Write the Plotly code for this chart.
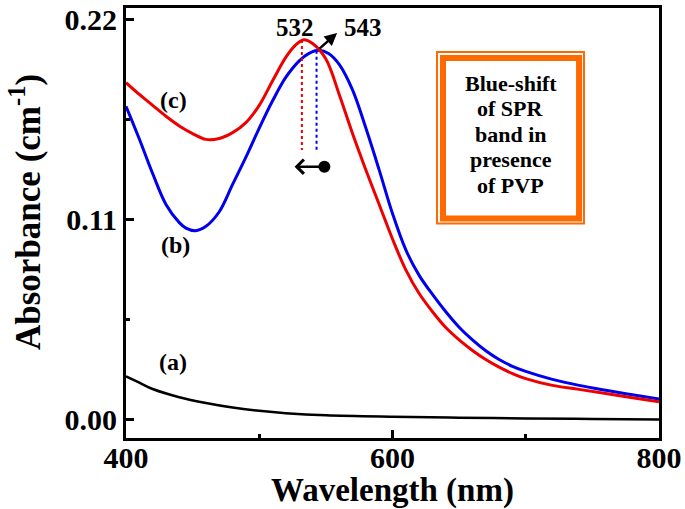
import plotly.graph_objects as go

# ---------------- data ----------------
wl_c = [400, 410, 420, 430, 440, 450, 460, 470, 480, 490, 500, 510, 520, 527, 533,
        540, 550, 560, 570, 580, 590, 600, 610, 620, 630, 640, 650, 660, 670, 680,
        690, 700, 720, 740, 760, 780, 800]
abs_c = [0.185, 0.1785, 0.1725, 0.1665, 0.1612, 0.157, 0.1538, 0.1543, 0.1575, 0.163, 0.1725,
         0.186, 0.199, 0.2055, 0.2085, 0.2065, 0.198, 0.1785, 0.157, 0.137, 0.118, 0.099,
         0.082, 0.069, 0.059, 0.0503, 0.0435, 0.0377, 0.0327, 0.0285, 0.025, 0.0222,
         0.0185, 0.0163, 0.014, 0.0117, 0.0095]

wl_b = [400, 410, 420, 430, 440, 445, 452, 460, 470, 480, 490, 500, 510, 520, 530,
        537, 545, 552, 560, 570, 580, 590, 600, 610, 620, 630, 640, 650, 660, 670,
        680, 690, 700, 720, 740, 760, 780, 800]
abs_b = [0.172, 0.154, 0.135, 0.118, 0.108, 0.105, 0.1036, 0.106, 0.114, 0.129, 0.144,
         0.160, 0.175, 0.188, 0.197, 0.201, 0.2028, 0.201, 0.195, 0.181, 0.160, 0.137,
         0.113, 0.093, 0.079, 0.0685, 0.059, 0.0505, 0.0435, 0.0375, 0.0327, 0.029, 0.0262,
         0.0218, 0.0185, 0.0158, 0.0133, 0.011]

wl_a = [400, 410, 420, 440, 460, 480, 500, 520, 550, 600, 650, 700, 750, 800]
abs_a = [0.0235, 0.020, 0.0165, 0.012, 0.0088, 0.0063, 0.0045, 0.0032, 0.002, 0.0012,
         0.0007, 0.0003, 0.0, -0.0003]

peak_wl = [532, 543]
peak_abs = [0.2085, 0.2025]
peak_labels = ["532", "543"]
drop_bottom = 0.148

curve_labels = ["(a)", "(b)", "(c)"]
box_lines = ["Blue-shift", "of SPR", "band in", "presence", "of PVP"]

x_ticks = [400, 600, 800]
y_ticks = [0.00, 0.11, 0.22]

FONT = "Liberation Serif"
ORANGE = "#FF6A00"

fig = go.Figure()
fig.add_trace(go.Scatter(x=wl_a, y=abs_a, mode="lines", line=dict(color="black", width=2.5, shape="spline")))
fig.add_trace(go.Scatter(x=wl_b, y=abs_b, mode="lines", line=dict(color="#0000EE", width=3, shape="spline")))
fig.add_trace(go.Scatter(x=wl_c, y=abs_c, mode="lines", line=dict(color="#EE0000", width=3, shape="spline")))

# dotted drop lines from peaks
for xw, ya, col in zip(peak_wl, peak_abs, ["#EE0000", "#0000EE"]):
    fig.add_trace(go.Scatter(x=[xw, xw], y=[ya, drop_bottom], mode="lines",
                             line=dict(color=col, width=2, dash="dot")))

ann = []
# y-axis title as annotation (placed like the reference)
ann.append(dict(x=(25 - 126) / 533, y=(438 - 212) / 430, xref="paper", yref="paper",
                text="Absorbance (cm<sup>-1</sup>)", textangle=-90, showarrow=False,
                xanchor="center", yanchor="middle",
                font=dict(family=FONT, size=35, color="black", weight="bold")))
# curve labels
for txt, (xx, yy) in zip(curve_labels, [(435.3, 0.0314), (436.8, 0.0957), (435.3, 0.1755)]):
    ann.append(dict(x=xx, y=yy, text=txt, showarrow=False,
                    font=dict(family=FONT, size=24, color="black", weight="bold")))
# peak labels
for txt, xx in zip(peak_labels, [526.8, 577.9]):
    ann.append(dict(x=xx, y=0.2156, text=txt, showarrow=False,
                    font=dict(family=FONT, size=25, color="black", weight="bold")))
# arrow near 543
ann.append(dict(x=558.4, y=0.2123, ax=544.1, ay=0.203, axref="x", ayref="y",
                text="", showarrow=True, arrowhead=2, arrowsize=1, arrowwidth=2.5,
                arrowcolor="black", standoff=0, startstandoff=0))
# left arrow with dot
ann.append(dict(x=526.5, y=0.1388, ax=550.0, ay=0.1388, axref="x", ayref="y",
                text="", showarrow=True, arrowhead=4, arrowsize=1.1, arrowwidth=2.5,
                arrowside="end+start", startarrowhead=6, startarrowsize=1.2,
                arrowcolor="black", standoff=0, startstandoff=0))
# box text
for i, line in enumerate(box_lines):
    ann.append(dict(x=688.9, y=(419 - (83 + 25.5 * i)) * 0.00055, text=line, showarrow=False,
                    font=dict(family=FONT, size=22, color="black", weight="bold")))

shapes = [
    dict(type="rect", xref="x", yref="y", x0=633.4, x1=743.7, y0=0.1075, y1=0.2019,
         line=dict(color=ORANGE, width=2)),
    dict(type="rect", xref="x", yref="y", x0=637.9, x1=740.0, y0=0.1103, y1=0.1986,
         line=dict(color=ORANGE, width=6)),
]

axis_common = dict(showline=True, linecolor="black", linewidth=3, mirror=True,
                   ticks="inside", ticklen=8, tickwidth=3, tickcolor="black",
                   showgrid=False, zeroline=False)

fig.update_layout(
    width=685, height=509,
    margin=dict(l=126, r=26, t=8, b=71),
    plot_bgcolor="white", paper_bgcolor="white",
    showlegend=False,
    annotations=ann, shapes=shapes,
    xaxis=dict(range=[400, 800], tickvals=x_ticks,
               tickfont=dict(family=FONT, size=30, color="black", weight="bold"),
               ticklabelstandoff=-9,
               title=dict(text="Wavelength (nm)", standoff=8,
                          font=dict(family=FONT, size=33, color="black", weight="bold")),
               minor=dict(tick0=400, dtick=100, ticks="inside", ticklen=4, tickwidth=3, tickcolor="black"),
               automargin=False, **axis_common),
    yaxis=dict(range=[-0.01045, 0.22605], tickvals=y_ticks, tickformat=".2f",
               tickfont=dict(family=FONT, size=30, color="black", weight="bold"),
               minor=dict(tick0=0, dtick=0.055, ticks="inside", ticklen=4, tickwidth=3, tickcolor="black"),
               automargin=False, **axis_common),
)

fig.write_html("out.html", config={"displayModeBar": False},
               post_script="document.body.style.margin='0';document.body.style.overflow='hidden';")
